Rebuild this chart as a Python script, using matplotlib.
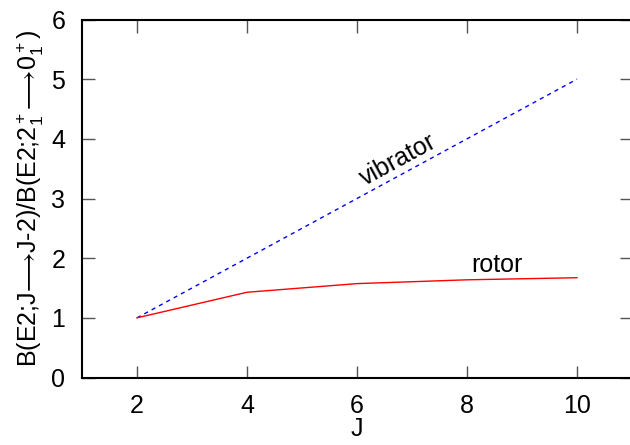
import matplotlib
matplotlib.use("Agg")
import matplotlib.pyplot as plt

plt.rcParams['font.family'] = ['Liberation Sans', 'DejaVu Sans']
plt.rcParams['mathtext.fontset'] = 'custom'
plt.rcParams['mathtext.rm'] = 'Liberation Sans'
plt.rcParams['mathtext.it'] = 'Liberation Sans'
plt.rcParams['mathtext.fallback'] = 'stixsans'

# Spin values and B(E2) ratios relative to the 2+ -> 0+ transition
spins = [2, 4, 6, 8, 10]
vibrator = [1.0, 2.0, 3.0, 4.0, 5.0]
rotor = [1.0, 1.4286, 1.5734, 1.6372, 1.6724]

x_ticks = [2, 4, 6, 8, 10]
y_ticks = [0, 1, 2, 3, 4, 5, 6]

fig = plt.figure(figsize=(6.3, 4.45), dpi=100)
ax = fig.add_axes([82 / 630, 67.5 / 445, 550 / 630, 358 / 445])

ax.plot(spins, vibrator, color='blue', linestyle=(0, (3, 3)), linewidth=1.0)
ax.plot(spins, rotor, color='red', linewidth=1.0)

ax.set_xlim(1, 11)
ax.set_ylim(0, 6)
ax.set_xticks(x_ticks)
ax.set_yticks(y_ticks)
ax.tick_params(direction='in', length=9, width=1, color='#555555',
               labelsize=18, top=True, right=True)
ax.tick_params(axis='x', pad=12)
ax.tick_params(axis='y', pad=12)
for s in ax.spines.values():
    s.set_linewidth(1.5)

ax.set_xlabel('J', fontsize=18, labelpad=-1)
ax.set_ylabel('B(E2;J$⟶$J-2)/B(E2;2$_1^+$$⟶$0$_1^+$)', fontsize=18, labelpad=4)

ax.text(6.75, 3.64, 'vibrator', fontsize=18, rotation=28.5,
        ha='center', va='center', rotation_mode='anchor')
ax.text(8.55, 1.88, 'rotor', fontsize=18, ha='center', va='center')

fig.savefig('out.png', dpi=100)
